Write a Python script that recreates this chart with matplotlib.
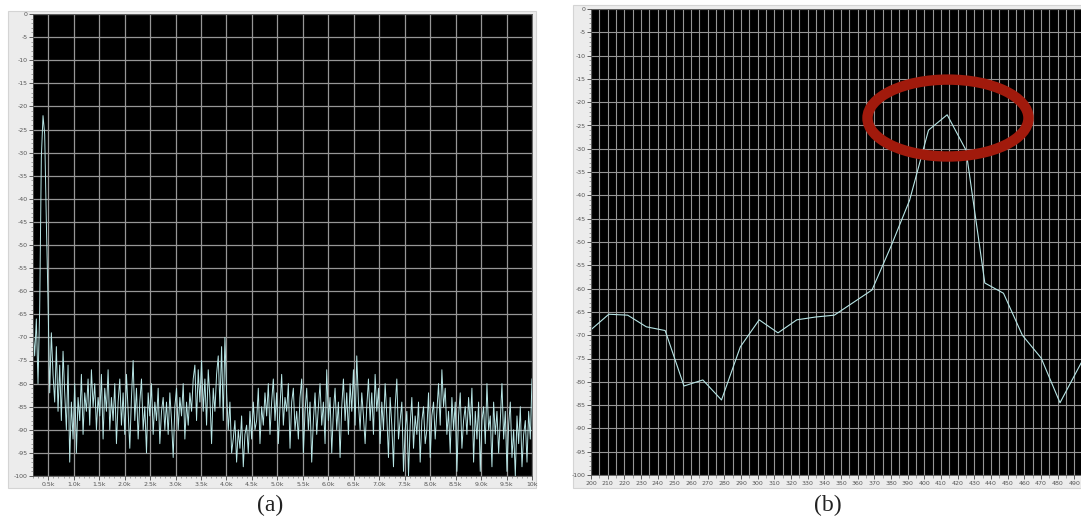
import numpy as np
import matplotlib
matplotlib.use("Agg")
import matplotlib.pyplot as plt
from matplotlib.patches import Rectangle, Ellipse
from matplotlib.ticker import MultipleLocator, FixedLocator

# ---------------- data ----------------
# Panel (a): wideband spectrum, 0.2 kHz .. 10 kHz (levels in dB)
level_a = [
    -68, -74, -66, -80, -64, -31, -22, -26, -45, -62, -82, -69, -78, -84, -72, -86, -76, -88, -73, -82,
    -90, -76, -97, -84, -92, -80, -95, -83, -88, -78, -91, -82, -86, -79, -89, -77, -85, -80, -90, -83,
    -87, -78, -92, -81, -86, -77, -90, -83, -88, -80, -93, -84, -79, -89, -82, -91, -78, -86, -94, -83,
    -75, -88, -81, -92, -84, -79, -90, -85, -95, -82, -87, -80, -91, -84, -88, -81, -93, -86, -83, -90,
    -84, -91, -82, -88, -96, -85, -81, -90, -83, -87, -80, -92, -84, -89, -82, -86, -79, -76, -88, -77,
    -84, -75, -86, -79, -89, -77, -83, -93, -81, -86, -78, -74, -85, -72, -88, -70, -82, -90, -84, -95,
    -92, -88, -97, -90, -94, -87, -98, -91, -89, -95, -86, -92, -84, -90, -88, -81, -93, -85, -89, -82,
    -87, -80, -91, -84, -79, -88, -82, -93, -85, -78, -89, -83, -86, -80, -94, -84, -81, -90, -86, -92,
    -83, -79, -95, -86, -81, -90, -84, -97, -88, -82, -91, -85, -80, -89, -84, -93, -77, -88, -83, -95,
    -86, -81, -90, -84, -96, -85, -79, -88, -82, -91, -80, -86, -77, -89, -74, -84, -90, -82, -87, -93,
    -85, -79, -88, -82, -91, -78, -86, -81, -93, -84, -90, -80, -87, -96, -83, -89, -98, -85, -79, -92,
    -88, -84, -99, -90, -86, -100, -89, -83, -94, -87, -91, -84, -97, -88, -85, -93, -90, -82, -96, -87,
    -84, -92, -86, -80, -89, -77, -85, -81, -91, -86, -95, -83, -90, -84, -99, -87, -82, -94, -88, -85,
    -91, -83, -89, -81, -97, -86, -92, -84, -99, -88, -85, -93, -80, -90, -87, -98, -84, -91, -86, -95,
    -88, -80, -92, -86, -99, -89, -84, -96, -90, -100, -87, -93, -85, -98, -91, -88, -97, -86, -92, -79,
]
freq_a_start, freq_a_stop = 0.2, 10.0   # kHz, uniform analyser grid
freq_a = np.linspace(freq_a_start, freq_a_stop, len(level_a))

# Panel (b): zoomed spectrum 200 .. 494 Hz
freq_b = [199.4, 210.7, 222.0, 233.2, 244.5, 255.8, 267.1, 278.3, 289.6, 300.9,
          312.2, 323.5, 334.7, 346.0, 357.3, 368.6, 379.9, 391.2, 402.5, 413.7,
          425.0, 436.3, 447.5, 458.8, 470.1, 481.4, 494.0]
level_b = [-69.0, -65.5, -65.7, -68.2, -69.0, -80.9, -79.6, -83.9, -72.5, -66.7,
           -69.5, -66.7, -66.1, -65.7, -63.0, -60.3, -51.0, -41.0, -26.0, -22.7,
           -30.3, -58.8, -61.0, -70.0, -74.9, -84.5, -76.0]

xticks_a = [0.5, 1.0, 1.5, 2.0, 2.5, 3.0, 3.5, 4.0, 4.5, 5.0, 5.5, 6.0, 6.5, 7.0,
            7.5, 8.0, 8.5, 9.0, 9.5, 10.0]
xticklabels_a = ["0.5k", "1.0k", "1.5k", "2.0k", "2.5k", "3.0k", "3.5k", "4.0k", "4.5k",
                 "5.0k", "5.5k", "6.0k", "6.5k", "7.0k", "7.5k", "8.0k", "8.5k", "9.0k",
                 "9.5k", "10k"]
xticks_b = list(range(200, 500, 10))
yticks = list(range(0, -105, -5))

# ---------------- layout ----------------
W, H = 1081, 520
fig = plt.figure(figsize=(W / 100, H / 100), dpi=100)
fig.patch.set_facecolor("white")


def rect(x0, y0, x1, y1):
    return [x0 / W, 1 - y1 / H, (x1 - x0) / W, (y1 - y0) / H]


# light-gray instrument frames
for (x0, y0, x1, y1) in [(8, 11, 536, 488), (573, 5, 1081, 488)]:
    r = rect(x0, y0, x1, y1)
    fig.add_artist(Rectangle((r[0], r[1]), r[2], r[3], transform=fig.transFigure,
                             facecolor="#ececec", edgecolor="#d4d4d4", lw=0.8, zorder=0))

grid_col = "#969696"
line_col = "#b8e6e6"
lab_col = "#555555"


def style(ax):
    ax.set_facecolor("black")
    ax.set_ylim(-100, 0)
    ax.yaxis.set_major_locator(FixedLocator(yticks))
    ax.set_yticklabels([str(v) for v in yticks])
    ax.yaxis.set_minor_locator(MultipleLocator(1))
    ax.tick_params(which="major", direction="out", length=3, width=0.6, color="#444444",
                   labelsize=4.5, labelcolor=lab_col, pad=1)
    ax.tick_params(which="minor", direction="out", length=1.5, width=0.4, color="#666666")
    for s in ax.spines.values():
        s.set_color("#555555")
        s.set_linewidth(0.6)
    ax.set_axisbelow(True)


# ----- panel (a) -----
ax_a = fig.add_axes(rect(33, 14, 532, 476))
style(ax_a)
ax_a.set_xlim(freq_a_start, freq_a_stop)
ax_a.set_xticks(xticks_a)
ax_a.set_xticklabels(xticklabels_a)
ax_a.xaxis.set_minor_locator(MultipleLocator(0.1))
ax_a.grid(True, which="major", color=grid_col, lw=0.9)
ax_a.plot(freq_a, level_a, color=line_col, lw=0.7)

# ----- panel (b) -----
ax_b = fig.add_axes(rect(591, 9, 1081, 475))
style(ax_b)
ax_b.set_xlim(200, 494)
ax_b.set_xticks(xticks_b)
ax_b.set_xticklabels([str(v) for v in xticks_b])
ax_b.xaxis.set_minor_locator(MultipleLocator(5))
ax_b.grid(True, which="major", color=grid_col, lw=0.8)
ax_b.xaxis.grid(True, which="minor", color=grid_col, lw=0.8)
ax_b.plot(freq_b, level_b, color=line_col, lw=0.8)
ax_b.tick_params(axis="x", which="minor", length=2)
ax_b.add_patch(Ellipse((414.2, -23.4), 96.6, 16.5, fill=False,
                       edgecolor="#a11a0c", lw=7.5, zorder=5))

# captions
fig.text(270 / W, 1 - 505 / H, "(a)", ha="center", va="center",
         family="Liberation Serif", fontsize=17, color="#222222")
fig.text(828 / W, 1 - 505 / H, "(b)", ha="center", va="center",
         family="Liberation Serif", fontsize=17, color="#222222")

fig.savefig("out.png", dpi=100, facecolor="white")
